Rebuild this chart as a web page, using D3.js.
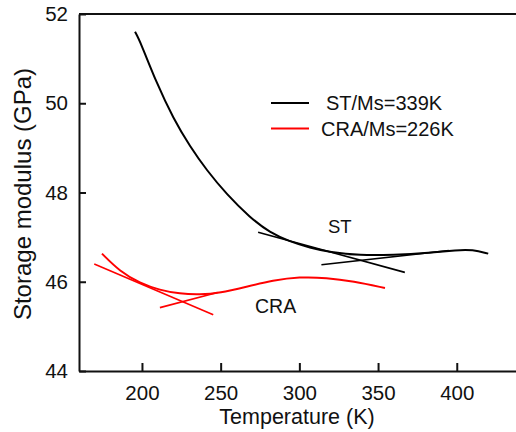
<!DOCTYPE html>
<html>
<head>
<meta charset="utf-8">
<script src="https://cdn.jsdelivr.net/npm/d3@7"></script>
<style>
  body { margin: 0; background: #fff; }
  text { font-family: "Liberation Sans", Arial, sans-serif; fill: #111; }
</style>
</head>
<body>
<script>
// storage modulus curves (T in K, E in GPa)
let stCurve = [[195.6, 51.6], [198.7, 51.40], [209.3, 50.45], [219.9, 49.66], [230.5, 49.03],
  [241.1, 48.50], [253.8, 47.96], [268.6, 47.44], [281.3, 47.10], [294, 46.9], [306.7, 46.76],
  [319.4, 46.66], [338.5, 46.59], [359.5, 46.60], [383, 46.65], [400, 46.71], [410, 46.72], [420, 46.63]];
let craCurve = [[174.6, 46.63], [186, 46.23], [198.7, 45.97], [211.4, 45.81], [224, 45.73],
  [236.8, 45.71], [249.5, 45.75], [266.4, 45.89], [283.3, 46.03], [300, 46.11], [317.3, 46.09],
  [334.2, 46.01], [354.4, 45.86]];

// tangent lines used to find Ms
let stTangents = [[[273.8, 47.11], [367, 46.21]], [[314, 46.38], [395, 46.70]]];
let craTangents = [[[169.7, 46.40], [245.3, 45.26]], [[211.4, 45.42], [248, 45.76]]];

let xTicks = [200, 250, 300, 350, 400];
let yTicks = [44, 46, 48, 50, 52];
let legendLabels = ["ST/Ms=339K", "CRA/Ms=226K"];
let colors = ["#000", "#ff0000"];

let svg = d3.select("body").append("svg")
    .attr("width", 516)
    .attr("height", 432);

let x = d3.scaleLinear().domain([160, 460]).range([79, 79 + 300 * 1.574]);
let y = d3.scaleLinear().domain([44, 52]).range([371, 14]);

// axes, ticks pointing inward
svg.append("g").attr("transform", "translate(0,371)")
    .call(d3.axisBottom(x).tickValues(xTicks).tickSizeInner(-8).tickSizeOuter(0).tickPadding(14))
    .call(g => g.selectAll("text").attr("font-size", 20.5).attr("font-family", "Liberation Sans"))
    .call(g => g.selectAll("line,path").attr("stroke", "#111").attr("stroke-width", 2));

svg.append("g").attr("transform", "translate(79,0)")
    .call(d3.axisLeft(y).tickValues(yTicks).tickSizeInner(-7).tickSizeOuter(0).tickPadding(11))
    .call(g => g.selectAll("text").attr("font-size", 20.5).attr("font-family", "Liberation Sans"))
    .call(g => g.selectAll("line,path").attr("stroke", "#111").attr("stroke-width", 2));

// top frame
svg.append("line")
    .attr("x1", x(160)).attr("x2", x(460))
    .attr("y1", y(52)).attr("y2", y(52))
    .attr("stroke", "#111").attr("stroke-width", 2);

let line = d3.line()
    .x(d => x(d[0]))
    .y(d => y(d[1]))
    .curve(d3.curveBasis);

svg.append("path").attr("d", line(stCurve))
    .attr("fill", "none").attr("stroke", colors[0]).attr("stroke-width", 2);
svg.append("path").attr("d", line(craCurve))
    .attr("fill", "none").attr("stroke", colors[1]).attr("stroke-width", 2);

svg.append("g").selectAll("path")
    .data(stTangents)
    .enter().append("path")
    .attr("d", d => d3.line().x(p => x(p[0])).y(p => y(p[1]))(d))
    .attr("stroke", colors[0]).attr("stroke-width", 1.6).attr("fill", "none");

svg.append("g").selectAll("path")
    .data(craTangents)
    .enter().append("path")
    .attr("d", d => d3.line().x(p => x(p[0])).y(p => y(p[1]))(d))
    .attr("stroke", colors[1]).attr("stroke-width", 1.6).attr("fill", "none");

// labels
svg.append("text").attr("x", 328).attr("y", 233).attr("font-size", 18.5).text("ST");
svg.append("text").attr("x", 255).attr("y", 313).attr("font-size", 19.5).text("CRA");

// legend
let legend = svg.append("g").selectAll("g")
    .data(legendLabels)
    .enter().append("g")
    .attr("transform", (d, i) => "translate(271," + (103 + i * 25.5) + ")");
legend.append("line")
    .attr("x1", 0).attr("x2", 38)
    .attr("stroke", (d, i) => colors[i]).attr("stroke-width", 2);
legend.append("text")
    .attr("x", (d, i) => i == 0 ? 55 : 50)
    .attr("y", 7)
    .attr("font-size", 20)
    .text(d => d);

// axis titles
svg.append("text")
    .attr("x", 297).attr("y", 424)
    .attr("text-anchor", "middle")
    .attr("font-size", 21.5)
    .text("Temperature (K)");

svg.append("text")
    .attr("transform", "translate(31,194) rotate(-90)")
    .attr("text-anchor", "middle")
    .attr("font-size", 24)
    .text("Storage modulus (GPa)");
</script>
</body>
</html>
